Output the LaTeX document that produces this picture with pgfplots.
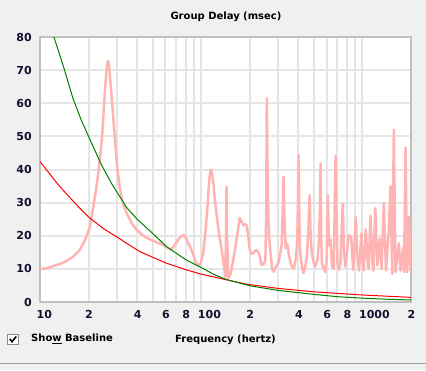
\documentclass[border=0pt]{standalone}
\usepackage{fontspec}
\setmainfont{DejaVu Sans}
\usepackage{pgfplots}
\pgfplotsset{compat=1.18}
\definecolor{bg}{HTML}{F0F0F0}
\definecolor{gridc}{HTML}{E6E6E6}
\definecolor{framec}{HTML}{C0C0C0}
\definecolor{pinkc}{HTML}{FFB4B4}
\definecolor{greenc}{HTML}{008000}
\definecolor{redc}{HTML}{FF0000}
\definecolor{tickc}{HTML}{101030}
\definecolor{boxc}{HTML}{8A8A8A}
\begin{document}
\begin{tikzpicture}[x=1pt,y=1pt]
\fill[bg] (0,0) rectangle (426,370);
\useasboundingbox (0,0) rectangle (426,370);
\begin{axis}[
  at={(40pt,68pt)}, anchor=south west,
  scale only axis, width=371pt, height=265pt,
  xmode=log, xmin=10, xmax=2000, ymin=0, ymax=80,
  axis background/.style={fill=white},
  axis line style={framec, line width=2pt},
  major tick length=0pt, minor tick length=0pt,
  xtick={10,20,40,60,80,100,200,400,600,800,1000,2000},
  xticklabels={10,2,4,6,8,100,2,4,6,8,1000,2},
  minor xtick={30,50,70,90,300,500,700,900},
  ytick={0,10,20,30,40,50,60,70,80},
  yticklabels={0,10,20,30,40,50,60,70,80},
  xmajorgrids, xminorgrids, ymajorgrids,
  major grid style={gridc, line width=2pt},
  minor grid style={gridc, line width=2pt},
  xticklabel style={anchor=north west, inner sep=0pt, xshift=-3.5pt, yshift=-8pt, font=\fontsize{11}{11}\selectfont\bfseries, text=tickc},
  yticklabel style={anchor=east, inner sep=0pt, xshift=-8pt, font=\fontsize{11}{11}\selectfont\bfseries, text=tickc},
  clip=true,
]
\addplot[pinkc, line width=2.5pt, line join=round] coordinates {
(10,9.9) (11,10.2) (12,10.8) (13.3,11.5) (14.5,12.3) (16.1,13.7) (17.5,15.5)
(18.6,17.7) (19.5,20) (20.4,22.7) (21.4,28.8) (22.2,33.5) (23.0,38.9) (24.2,48.9)
(25.3,64) (26.0,71.5) (26.4,72.8) (26.8,71.5) (27.6,64) (29.2,48.9) (30.2,40)
(31.4,33.8) (32.8,29.5) (34.5,26.8) (37,23.8) (39.9,21.7) (44,19.9) (48.2,18.9)
(53,18.0) (58.3,17.2) (62,16.3) (64.2,15.9) (67,16.5) (70.6,18.2) (74,19.6)
(77.6,20.2) (80,19.5) (82.5,18.0) (85.4,16.7) (89,14.5) (92,12.3) (96,11) (99,11.5)
(103,15) (106,20.7) (109,28) (111,33.8) (113,38.5) (114.5,40) (116,39.5) (119,35.8)
(122,30) (125,25.8) (130,19.5) (134,15.7) (138,11) (141,7.6) (142.5,20) (143.5,34.8)
(144.5,20) (147,7.1) (152,8.5) (158,12.7) (164,17.5) (169,21.7) (173,25.3) (177,24.5)
(182,23.2) (187,23.5) (191,23.2) (195,20.7) (200,15.7) (205,14.5) (210,14.7)
(215,15.4) (220,15.7) (228,14.7) (237,11.2) (245,11.5) (250,12.7) (253,26.8)
(255,61.5) (257,45) (259,31.8) (263,20) (268,15.7) (275,10) (281,9.1) (289,10.5)
(300,11.7) (310,15) (316,17.7) (320,28) (324,37.8) (327,28) (330,21.7) (334,16.2)
(339,17.7) (344,17.0) (350,14) (362,11) (375,10.2) (386,13) (394,18.7) (398,30)
(402,44.4) (406,25) (410,15.7) (420,11) (431,8.7) (443,11) (452,13.7) (462,22)
(470,32.3) (477,20) (485,15) (497,12) (510,10.7) (527,13) (538,19.2) (545,30)
(550,41.9) (555,20) (560,11.7) (575,10) (588,9.1) (600,13) (610,32.3) (618,20)
(625,17) (633,19) (648,10.7) (663,10) (681,44.1) (700,11.7) (715,9.7) (730,12)
(755,29.6) (768,15) (784,10.7) (822,20.2) (851,19.5) (876,9.7) (908,25.6) (928,14)
(952,9.5) (985,20.7) (1003,12) (1020,9.5) (1047,21.9) (1078,12) (1093,10)
(1120,26) (1153,12) (1169,9.5) (1200,28.3) (1237,11) (1281,19.2) (1313,10)
(1356,29.8) (1400,9.5) (1457,21.9) (1493,35) (1530,8.5) (1565,51.9) (1603,9)
(1681,17.7) (1722,9.5) (1786,16.5) (1810,9) (1850,46.7) (1890,9) (1940,25.8)
(1985,9.5) (2000,12)
};
\addplot[redc, line width=1pt] coordinates {
(10,42.4) (12,37.5) (13.3,34.8) (15,32) (17.5,28.5) (20.4,25.3) (25,22) (29.9,19.7)
(35,17.5) (41.7,15.2) (50,13.5) (61,11.7) (81,9.7) (100,8.4) (119,7.6) (143,6.7)
(190,5.4) (300,4.1) (495,3.1) (700,2.6) (1010,2.1) (1500,1.7) (2000,1.4)
};
\addplot[greenc, line width=1pt] coordinates {
(11.5,86) (12.2,80) (14,71) (16,61.5) (18,55) (20,50) (24,41.5) (28,35.5) (34.5,28.5)
(40,25) (48,21.5) (61,16.7) (80,12.8) (100,10.4) (120,8.3) (143,6.8) (200,4.9)
(300,3.5) (500,2.3) (700,1.6) (1000,1.15) (1500,0.8) (2000,0.6)
};
\end{axis}
\node[font=\fontsize{10}{12}\selectfont\bfseries] at (226,353.3) {Group Delay (msec)};
\node[font=\fontsize{10}{12}\selectfont\bfseries] at (225.5,30) {Frequency (hertz)};
\node[font=\fontsize{10}{12}\selectfont\bfseries, anchor=west, inner sep=0pt] at (31,31) {Sho\underline{w} Baseline};
\fill[white] (7,25) rectangle (19,36);
\draw[boxc, line width=1.2pt] (7.6,25.6) rectangle (18.4,35.4);
\draw[black, line width=1.6pt] (9.8,31) -- (12,28.3) -- (16.3,33.5);
\draw[gray!75, line width=1pt] (0,7) -- (426,7);
\end{tikzpicture}
\end{document}
